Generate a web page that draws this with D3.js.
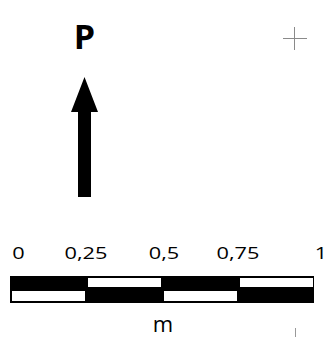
<!DOCTYPE html>
<html><head><meta charset="utf-8">
<script src="https://cdn.jsdelivr.net/npm/d3@7"></script>
<style>html,body{margin:0;padding:0;background:#fff;}svg{display:block;}</style>
</head><body>
<script>
// Scale bar data
const tickValues = [0, 0.25, 0.5, 0.75, 1];
const tickLabels = ["0", "0,25", "0,5", "0,75", "1"];
const unitLabel = "m";
const northLabel = "P";
// segment fill pattern: top row / bottom row (1 = black, 0 = white)
const topRow = [1, 0, 1, 0];
const bottomRow = [0, 1, 0, 1];

const W = 334, H = 338;
const svg = d3.select("body").append("svg").attr("width", W).attr("height", H);

const x = d3.scaleLinear().domain([0, 1]).range([10, 314]);

// north arrow
const ax = 84.5;
svg.append("text").attr("x", ax).attr("y", 49)
  .attr("text-anchor", "middle")
  .attr("font-family", "Open Sans").attr("font-weight", "bold").attr("font-size", 34)
  .attr("fill", "#000").text(northLabel);
const arrow = d3.path();
arrow.moveTo(ax, 77);
arrow.lineTo(ax + 13.5, 112);
arrow.lineTo(ax + 6.5, 112);
arrow.lineTo(ax + 6.5, 197);
arrow.lineTo(ax - 6.5, 197);
arrow.lineTo(ax - 6.5, 112);
arrow.lineTo(ax - 13.5, 112);
arrow.closePath();
svg.append("path").attr("d", arrow.toString()).attr("fill", "#000");

// crosshair
svg.append("line").attr("x1", 283).attr("x2", 307).attr("y1", 38.5).attr("y2", 38.5).attr("stroke", "#8a8a8a").attr("stroke-width", 1);
svg.append("line").attr("x1", 294.5).attr("x2", 294.5).attr("y1", 27).attr("y2", 50).attr("stroke", "#8a8a8a").attr("stroke-width", 1);

// scale bar
const barTop = 276, barBot = 303, midTop = 287, midBot = 291;
svg.append("rect").attr("x", x(0)).attr("y", barTop).attr("width", x(1) - x(0)).attr("height", barBot - barTop).attr("fill", "#000");
const segs = d3.range(4).map(i => ({a: tickValues[i], b: tickValues[i + 1], top: topRow[i], bot: bottomRow[i]}));
svg.selectAll("rect.tw").data(segs.filter(d => !d.top)).join("rect")
  .attr("x", d => x(d.a) + 2).attr("y", barTop + 2)
  .attr("width", d => x(d.b) - x(d.a) - 3).attr("height", midTop - barTop - 2)
  .attr("fill", "#fff");
svg.selectAll("rect.bw").data(segs.filter(d => !d.bot)).join("rect")
  .attr("x", d => x(d.a) + 2).attr("y", midBot)
  .attr("width", d => x(d.b) - x(d.a) - 3).attr("height", barBot - 2 - midBot)
  .attr("fill", "#fff");

// tick labels
const endShift = v => v === 0 ? 8.5 : (v === 1 ? 7 : (v === 0.5 ? 2 : 0));
svg.selectAll("text.tl").data(tickValues).join("text")
  .attr("transform", (d) => `translate(${x(d) + endShift(d)},258.5) scale(1.28,1)`)
  .attr("text-anchor", "middle")
  .attr("font-family", "Open Sans").attr("font-size", 17).attr("fill", "#000")
  .text((d, i) => tickLabels[i]);

// unit label
svg.append("text").attr("x", 163).attr("y", 332)
  .attr("text-anchor", "middle")
  .attr("font-family", "Open Sans").attr("font-size", 22).attr("fill", "#000")
  .text(unitLabel);

// small gray tick
svg.append("line").attr("x1", 295.5).attr("x2", 295.5).attr("y1", 328).attr("y2", 337).attr("stroke", "#999").attr("stroke-width", 1);
</script>
</body></html>
